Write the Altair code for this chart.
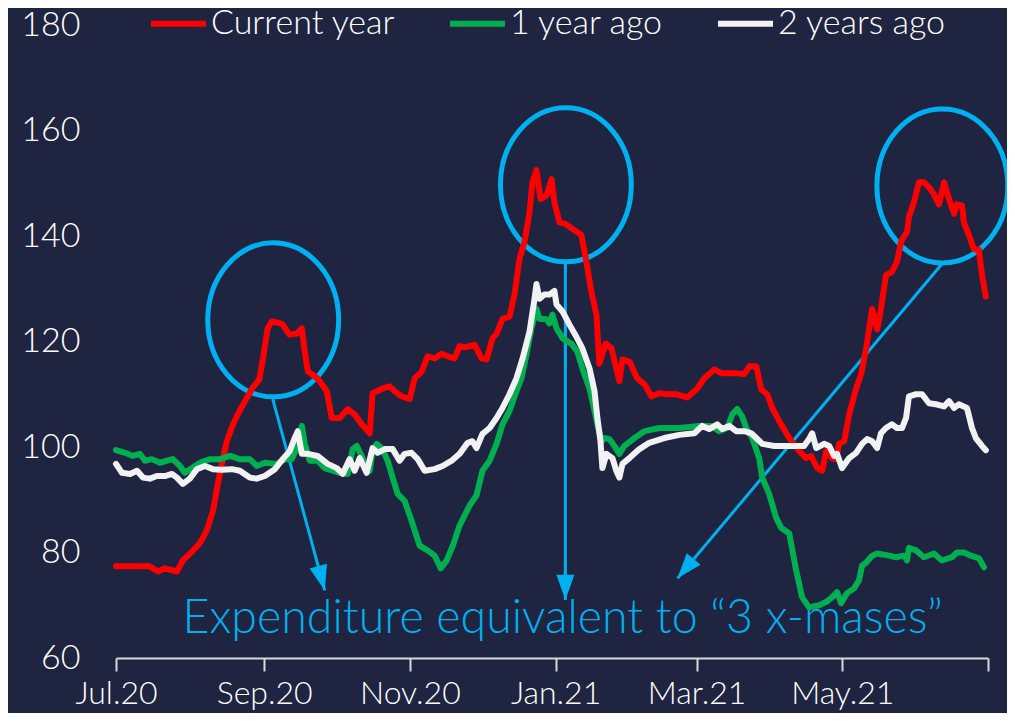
import altair as alt
import pandas as pd

# ---------------- data (day offsets from 1 Jul 2020, index values) ----------------
START = "2020-07-01"

red_days = [0, 14, 17.6, 20.5, 25.5, 28, 31, 35, 38, 40.6,
            42.6, 44.3, 46.4, 49, 51, 54, 57, 60, 61.5, 63.5,
            65.2, 69.4, 72.7, 75.7, 77.8, 79, 80.3, 84.4, 88.2, 90.3,
            93.6, 97, 99.9, 102.8, 106.2, 107.4, 111.6, 114.5, 116.6, 119.6,
            122.9, 125, 128, 130.4, 133.4, 136.3, 138.8, 141.7, 143.8, 146.3,
            150.1, 153, 155.1, 157.6, 159.3, 161.8, 164.7, 166.8, 168.9, 171,
            173.1, 174.3, 176, 177.7, 180.2, 182.3, 183.5, 185.6, 188.1, 191.9,
            194.8, 196.9, 199, 201.1, 202.3, 205, 207.4, 210.7, 212, 214.9,
            218.2, 221.2, 224.1, 227.4, 230.8, 234.5, 239.1, 243.3, 246.2, 250.4,
            253.3, 260, 263, 265.1, 268, 270.1, 272.6, 274.7, 277.6, 281.8,
            286, 288.9, 291, 293.5, 295.6, 297.2, 299.7, 301.4, 302.7, 304.8,
            306.9, 309.8, 311.9, 314, 316.5, 318.6, 320.2, 322.3, 324.8, 326.9,
            328.6, 331.1, 331.9, 334, 336.1, 338.2, 340.3, 342.4, 344.5, 346.6,
            348.7, 350.8, 352, 354.1, 354.9, 357, 359.1, 361.2, 362.5, 364.1]
red_vals = [77.4, 77.4, 76.4, 77.0, 76.4, 78.5, 79.8, 81.7, 84.2, 87.9,
            93.0, 96.8, 101.1, 104.3, 106.2, 108.7, 111.1, 112.8, 116.8, 122.5,
            123.8, 123.4, 121.3, 121.5, 122.5, 118.1, 114.3, 113.0, 110.6, 105.5,
            105.5, 107.2, 106.2, 104.3, 102.6, 110.2, 111.1, 111.5, 110.6, 109.6,
            109.1, 113.0, 114.3, 117.2, 116.8, 117.7, 117.2, 116.8, 119.1, 118.9,
            119.4, 116.8, 116.6, 120.6, 121.5, 124.3, 124.7, 128.9, 135.7, 138.9,
            144.5, 150.2, 152.5, 147.0, 147.7, 150.8, 146.4, 142.6, 142.3, 141.1,
            140.2, 135.1, 129.4, 125.1, 115.8, 119.6, 118.7, 112.5, 116.6, 116.2,
            113.0, 111.9, 109.6, 110.2, 110.0, 110.0, 109.4, 111.1, 113.0, 114.7,
            114.0, 114.0, 113.8, 115.3, 115.3, 110.9, 110.0, 107.4, 104.9, 101.7,
            99.2, 97.9, 98.3, 96.0, 95.5, 99.2, 97.9, 97.7, 100.6, 101.1,
            106.2, 111.1, 113.8, 118.7, 126.2, 122.3, 126.2, 132.6, 133.2, 135.1,
            138.9, 140.8, 143.6, 146.4, 150.2, 150.2, 149.2, 147.9, 146.0, 150.2,
            147.0, 144.2, 146.0, 145.8, 142.6, 140.2, 137.5, 137.4, 132.6, 128.5]

green_days = [0, 3.8, 7.1, 10, 12.1, 15, 18.4, 21.3, 23.8, 26.8,
              28.8, 31.8, 35.1, 39.3, 43.5, 47.7, 51.8, 56, 58.9, 62.3,
              67.3, 70.7, 73.6, 75.7, 77.8, 79, 81.1, 84.4, 87.4, 93.6,
              97, 99.1, 100.8, 102.8, 104.9, 106.2, 107.4, 109.1, 111.2, 113.7,
              115.8, 117.9, 120.8, 123.7, 127.1, 130.4, 133.4, 135.9, 138.4, 141,
              143.8, 148, 150.9, 153.4, 156.4, 159.3, 161.8, 164.7, 167.6, 169.7,
              171.8, 173.9, 176, 177.3, 180.2, 181.4, 182.7, 184.4, 186.9, 190.6,
              193.1, 195.2, 198.2, 199.4, 201.5, 203.2, 204.4, 206.5, 208.6, 210.7,
              212.8, 217, 221.2, 227.4, 235.8, 244.1, 249.2, 252.5, 255.9, 258,
              260, 262.1, 263.8, 266.3, 269.2, 270.5, 273.4, 276.3, 278.4, 281.8,
              284.7, 287.2, 290.1, 294.3, 297.2, 299.7, 301.8, 303.5, 306, 308.9,
              311, 312.3, 314, 316.5, 318.6, 323.6, 326.5, 329.8, 331.1, 331.9,
              334.9, 338.2, 342.4, 345.7, 349.9, 352, 354.9, 357.9, 361.2, 363.3]
green_vals = [99.4, 98.9, 98.3, 98.7, 97.4, 97.7, 97.0, 97.4, 97.7, 96.4,
              95.1, 96.0, 97.0, 97.7, 97.7, 98.3, 97.7, 97.7, 96.4, 97.0,
              96.8, 97.7, 97.7, 99.8, 104.0, 100.6, 97.4, 97.4, 96.0, 95.1,
              94.9, 99.6, 100.2, 98.3, 96.0, 95.5, 99.2, 100.6, 99.8, 97.4,
              94.2, 91.1, 89.8, 86.0, 81.3, 80.4, 79.4, 77.0, 78.5, 81.3,
              85.1, 88.9, 90.8, 95.5, 97.4, 100.6, 104.3, 106.8, 110.6, 113.0,
              117.5, 122.5, 126.2, 124.3, 124.2, 123.4, 125.1, 122.5, 120.6, 119.6,
              118.1, 114.9, 111.1, 108.7, 104.3, 101.1, 101.7, 101.5, 100.2, 98.7,
              100.2, 101.7, 103.0, 103.6, 103.6, 104.0, 104.0, 103.0, 103.6, 106.2,
              107.2, 105.8, 103.6, 101.7, 97.9, 94.2, 91.1, 86.6, 84.7, 83.6,
              76.6, 71.5, 69.6, 70.0, 70.6, 71.5, 72.5, 70.4, 72.3, 73.2,
              74.7, 77.5, 78.1, 79.4, 79.8, 79.4, 79.1, 79.4, 78.5, 80.9,
              80.4, 79.1, 79.8, 78.5, 79.1, 80.0, 80.0, 79.4, 78.9, 77.2]

white_days = [0, 2.5, 5.9, 8.8, 11.3, 14.2, 17.1, 20.5, 23.4, 25.5,
              28, 30.9, 33.9, 37.2, 40.6, 44.3, 48.5, 51.8, 56, 58.9,
              62.3, 66.5, 69.8, 72.7, 74.8, 76.1, 77.8, 80.3, 84.4, 88.6,
              92.4, 94.9, 97.8, 99.9, 102, 104.9, 107.4, 109.5, 112.5, 115.8,
              118.7, 120.8, 123.7, 126.3, 129.2, 133.4, 136.7, 140.5, 143.8, 147.2,
              149.2, 150.9, 153.4, 156.4, 159.3, 161.8, 164.7, 167.6, 170.2, 173.1,
              175.2, 176, 177.3, 179.3, 181.4, 183.5, 184.4, 186.9, 189.8, 192.7,
              195.2, 198.2, 200.3, 201.5, 202.8, 203.6, 205.3, 207.8, 209.4, 210.7,
              212, 214.9, 219.1, 223.2, 229.5, 235.8, 242.1, 245.4, 248.3, 251.7,
              253.8, 256.7, 259.6, 263, 265.9, 268, 270.5, 275.5, 281.8, 288,
              290.1, 291.4, 293.1, 296.4, 298.5, 300.6, 301.8, 303.9, 306.9, 309.8,
              312.3, 314.4, 316.5, 318.6, 320.2, 322.3, 324.8, 326.9, 329, 330.7,
              331.9, 334.9, 337.4, 340.3, 343.2, 346.6, 348.7, 350.8, 352.8, 356.2,
              358.3, 359.9, 362.5, 364.1]
white_vals = [96.8, 95.1, 94.9, 95.5, 94.2, 94.0, 94.5, 94.5, 94.9, 94.2,
              93.0, 94.0, 95.8, 96.4, 95.8, 95.7, 95.8, 95.5, 94.2, 94.0,
              94.5, 95.8, 97.7, 99.2, 101.7, 103.0, 98.7, 98.7, 98.3, 96.8,
              96.0, 94.9, 97.7, 95.5, 97.9, 95.1, 99.8, 98.9, 99.6, 99.6,
              97.4, 98.7, 98.9, 97.7, 95.5, 95.8, 96.4, 97.4, 98.7, 100.8,
              101.1, 99.8, 102.5, 103.6, 105.5, 107.4, 110.0, 113.0, 116.8, 121.9,
              128.1, 130.9, 128.1, 128.9, 128.9, 129.6, 127.0, 125.7, 123.2, 120.9,
              118.7, 114.9, 110.6, 105.5, 101.1, 96.0, 98.7, 97.9, 95.5, 94.2,
              96.8, 97.9, 99.6, 100.8, 101.7, 102.3, 102.6, 104.0, 103.4, 104.3,
              103.4, 104.0, 103.0, 103.0, 102.6, 101.7, 100.6, 100.2, 100.2, 100.2,
              101.5, 102.6, 99.8, 100.6, 100.2, 98.3, 98.7, 96.0, 97.9, 98.9,
              100.6, 101.5, 101.1, 99.8, 102.6, 103.6, 104.3, 103.6, 103.6, 105.5,
              109.6, 110.0, 110.0, 108.3, 108.1, 107.7, 108.7, 107.4, 108.1, 107.4,
              103.6, 101.7, 100.2, 99.4]

series_names = ["Current year", "1 year ago", "2 years ago"]
series_colors = ["#FF0000", "#00B050", "#F2F2F2"]

x_tick_dates = ["2020-07-01", "2020-09-01", "2020-11-01", "2021-01-01",
                "2021-03-01", "2021-05-01", "2021-07-01"]
y_ticks = [60, 80, 100, 120, 140, 160, 180]

# annotations (day offsets / index values)
ellipse_days = [65.8, 188.3, 345.9]
ellipse_vals = [124.1, 149.7, 149.5]
arrow_start_days = [65.6, 188.1, 345.7]
arrow_start_vals = [109.1, 134.7, 134.7]
arrow_end_days = [87.4, 188.1, 235.0]
arrow_end_vals = [72.8, 71.0, 75.1]
arrow_angles = [345, 0, 40]
note_text = "Expenditure equivalent to \u201c3 x-mases\u201d"
note_day = 187.0
note_val = 64.8

# ---------------- build tables ----------------
start = pd.Timestamp(START)


def to_date(d):
    return (start + pd.Timedelta(days=d)).strftime("%Y-%m-%dT%H:%M:%S")


rows = []
for name, days, vals in zip(series_names,
                            [red_days, green_days, white_days],
                            [red_vals, green_vals, white_vals]):
    for d, v in zip(days, vals):
        rows.append({"date": to_date(d), "value": v, "series": name})
df = pd.DataFrame(rows)

ell_df = pd.DataFrame({"date": [to_date(d) for d in ellipse_days],
                       "value": ellipse_vals})
arr_df = pd.DataFrame({"date": [to_date(d) for d in arrow_start_days],
                       "value": arrow_start_vals,
                       "date2": [to_date(d) for d in arrow_end_days],
                       "value2": arrow_end_vals,
                       "angle": arrow_angles})
note_df = pd.DataFrame({"date": [to_date(note_day)], "value": [note_val],
                        "text": [note_text]})

FONT = "Lato"
FW = 300
BG = "#1F2440"
BLUE = "#00B0F0"
AXIS_C = "#D9D9D9"

x_tick_vals = [alt.DateTime(year=int(s[:4]), month=int(s[5:7]), date=1) for s in x_tick_dates]

x_enc = alt.X(
    "date:T",
    scale=alt.Scale(domain=[x_tick_vals[0], x_tick_vals[-1]], nice=False),
    axis=alt.Axis(values=x_tick_vals, format="%b.%y", title=None, grid=False,
                  labelExpr="year(datum.value) == 2021 && month(datum.value) == 6 ? '' : timeFormat(datum.value, '%b.%y')",
                  domainColor=AXIS_C, domainWidth=2, tickColor=AXIS_C, tickWidth=2,
                  tickSize=13, labelPadding=7, labelFontSize=32, labelFont=FONT,
                  labelFontWeight=FW, labelColor="#FFFFFF", labelOverlap=False,
                  labelFlush=False),
)
y_enc = alt.Y(
    "value:Q",
    scale=alt.Scale(domain=[60, 180], nice=False, zero=False),
    axis=alt.Axis(values=y_ticks, title=None, grid=False, domain=False, ticks=False,
                  tickSize=0, labelPadding=36, labelFontSize=34, labelFont=FONT,
                  labelFontWeight=FW, labelColor="#FFFFFF"),
)

color_enc = alt.Color(
    "series:N",
    scale=alt.Scale(domain=series_names, range=series_colors),
    legend=alt.Legend(orient="none", legendX=32, legendY=-32, direction="horizontal",
                      title=None, symbolType="stroke", symbolSize=3025,
                      symbolStrokeWidth=6, labelFontSize=34, labelFont=FONT,
                      labelFontWeight=FW, labelColor="#FFFFFF", labelLimit=500,
                      columnPadding=42, labelOffset=2),
)

ELLIPSE = ("M0.85,0 C0.85,0.552 0.469,1 0,1 C-0.469,1 -0.85,0.552 -0.85,0 "
           "C-0.85,-0.552 -0.469,-1 0,-1 C0.469,-1 0.85,-0.552 0.85,0 Z")
HEAD = "M0,0 L-0.5,-1.4 L0.5,-1.4 Z"

ellipses = alt.Chart(ell_df).mark_point(
    shape=ELLIPSE, size=23716, filled=False, stroke=BLUE, strokeWidth=5, opacity=1
).encode(x=x_enc, y=y_enc)

arrows = alt.Chart(arr_df).mark_rule(color=BLUE, strokeWidth=3).encode(
    x=x_enc, y=y_enc, x2="date2:T", y2="value2:Q")

heads = alt.Chart(arr_df).mark_point(
    shape=HEAD, size=1300, filled=True, fill=BLUE, strokeWidth=0, opacity=1
).encode(x=alt.X("date2:T"), y=alt.Y("value2:Q"),
         angle=alt.Angle("angle:Q", scale=None))

note = alt.Chart(note_df).mark_text(
    font=FONT, fontWeight=FW, fontSize=46.5, color=BLUE, align="center",
    baseline="alphabetic"
).encode(x=x_enc, y=y_enc, text="text:N")

lines = []
for name in series_names:
    lines.append(
        alt.Chart(df).transform_filter(alt.datum.series == name)
        .mark_line(strokeWidth=6, strokeJoin="round", strokeCap="round")
        .encode(x=x_enc, y=y_enc, color=color_enc)
    )

chart = alt.layer(ellipses, arrows, heads, note, *lines).properties(
    width=872, height=633,
    padding={"left": 108, "top": 17, "right": 19, "bottom": 55},
    autosize=alt.AutoSizeParams(type="none"),
    background=BG,
).configure_view(stroke=None)

chart.save("out.html", embed_options={"renderer": "svg", "actions": False})
